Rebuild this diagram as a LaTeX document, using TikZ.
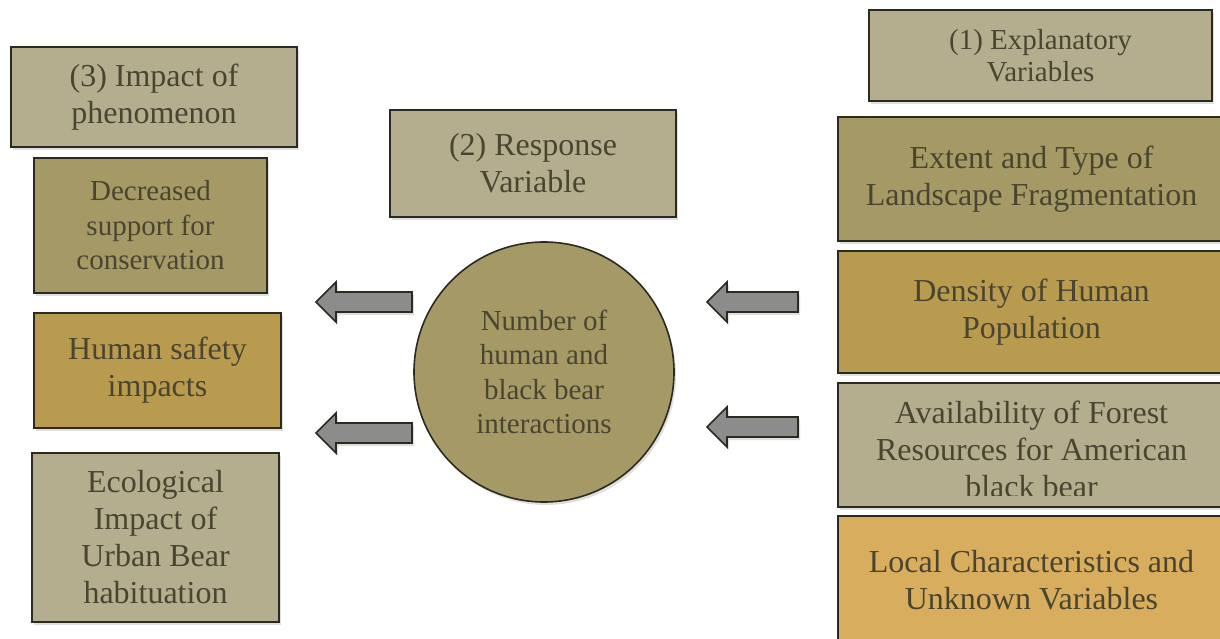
\documentclass[tikz,border=0pt]{standalone}
\usepackage{fontspec}
\setmainfont{Liberation Serif}
\usetikzlibrary{shadows}
\definecolor{khakigrey}{HTML}{B4AE8F}
\definecolor{olivebox}{HTML}{A59A65}
\definecolor{amberbox}{HTML}{B99B4F}
\definecolor{goldbox}{HTML}{D8AD5E}
\definecolor{txt}{HTML}{4A4530}
\definecolor{edge}{HTML}{2B2A20}
\definecolor{arrowfill}{HTML}{8C8C8C}
\tikzset{
  box/.style={draw=edge, line width=1.6pt, rectangle, align=center, text=txt, inner sep=0pt,
    drop shadow={opacity=0.25, shadow xshift=2pt, shadow yshift=-3pt}},
  big/.style={font=\fontsize{32}{37}\selectfont},
  mid/.style={font=\fontsize{29}{34.5}\selectfont},
  sml/.style={font=\fontsize{29}{32}\selectfont},
  blockarrow/.style={draw=edge, line width=1.6pt, fill=arrowfill, line join=miter,
    drop shadow={opacity=0.25, shadow xshift=2pt, shadow yshift=-3pt}},
}
\begin{document}
\begin{tikzpicture}[x=1pt,y=-1pt]
\useasboundingbox (0,0) rectangle (1220,639);
\clip (0,0) rectangle (1220,639);
% left column
\node[box, big, fill=khakigrey, minimum width=286, minimum height=100] (imp) at (154,97) {(3) Impact of\\phenomenon};
\node[box, mid, fill=olivebox, minimum width=233, minimum height=135] (dec) at (150.5,225.5) {Decreased\\support for\\conservation};
\node[box, big, fill=amberbox, minimum width=247, minimum height=115] (hum) at (157.5,370.5) {Human safety\\impacts};
\node[box, big, fill=khakigrey, minimum width=247, minimum height=169] (eco) at (155.5,537.5) {Ecological\\Impact of\\Urban Bear\\habituation};
% middle
\node[box, big, fill=khakigrey, minimum width=286, minimum height=107] (resp) at (533,163.5) {(2) Response\\Variable};
\node[box, mid, circle, fill=olivebox, minimum size=260] (circ) at (544,372) {Number of\\human and\\black bear\\interactions};
% right column
\node[box, sml, fill=khakigrey, minimum width=343, minimum height=91] (expl) at (1040.5,55.5) {(1) Explanatory\\Variables};
\node[box, big, fill=olivebox, minimum width=387, minimum height=124] (ext) at (1031.5,179) {Extent and Type of\\Landscape Fragmentation};
\node[box, big, fill=amberbox, minimum width=387, minimum height=122] (den) at (1031.5,312) {Density of Human\\Population};
\node[box, fill=khakigrey, minimum width=387, minimum height=124] (avail) at (1031.5,445) {};
\begin{scope}
  \clip (838,383) rectangle (1225,495);
  \node[big, text=txt, align=center, anchor=north] (availtxt) at (1031.5,397) {Availability of Forest\\Resources for American\\black bear};
\end{scope}
\node[box, big, fill=goldbox, minimum width=387, minimum height=129] (loc) at (1031.5,580.5) {Local Characteristics and\\Unknown Variables};
% block arrows (pointing left)
\coordinate (la1) at (316,302);
\coordinate (la2) at (316,433);
\coordinate (ra1) at (707,302);
\coordinate (ra2) at (707,427);
\foreach \c/\len in {la1/96, la2/96, ra1/91, ra2/91}{
  \draw[blockarrow] (\c) -- ++(20,-20) -- ++(0,10) -- ++(\len-20,0) -- ++(0,20) -- ++(-\len+20,0) -- ++(0,10) -- cycle;
}
\end{tikzpicture}
\end{document}
